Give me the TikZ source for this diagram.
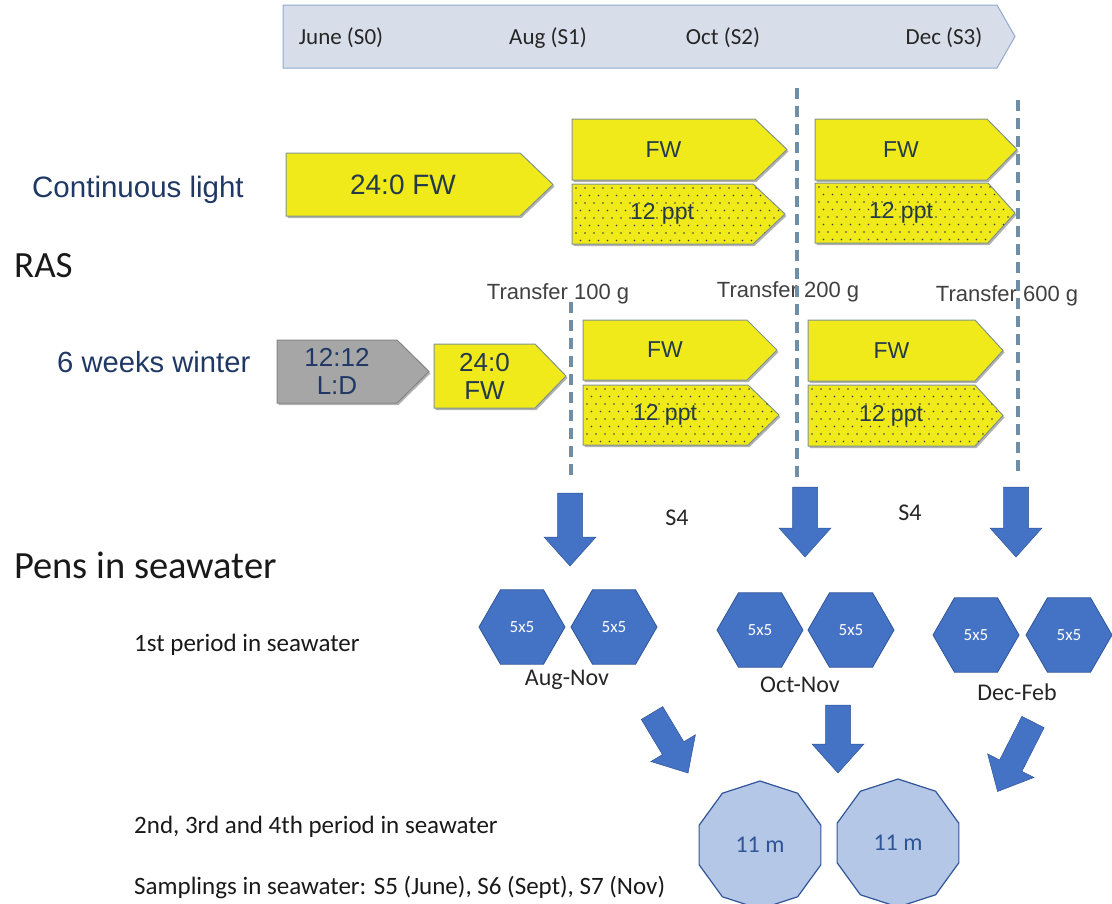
\documentclass[tikz,border=0pt]{standalone}
\usepackage{fontspec}
\setmainfont{Carlito}
\newfontfamily\arial{Liberation Sans}
\usetikzlibrary{shapes.geometric,shadows}
\definecolor{ylw}{RGB}{241,234,26}
\definecolor{ylwb}{RGB}{128,148,140}
\definecolor{navy}{RGB}{31,56,100}
\definecolor{slate}{RGB}{36,58,74}
\definecolor{tlfill}{RGB}{215,222,233}
\definecolor{tlbord}{RGB}{143,170,205}
\definecolor{blu}{RGB}{68,114,196}
\definecolor{blub}{RGB}{47,85,151}
\definecolor{lblu}{RGB}{180,199,231}
\definecolor{dashc}{RGB}{112,142,166}
\definecolor{gry}{RGB}{166,166,166}
\definecolor{dotc}{RGB}{55,62,55}
\definecolor{txt}{RGB}{38,38,38}
\newcommand\fsz[1]{\fontsize{#1}{#1}\selectfont}
% pentagon arrow: name, x1, y1, xtip, y2, xbody, style, node options, text
\newcommand\parrow[9]{%
  \draw[#7] (#2,#3) -- (#6,#3) -- (#4,{(#3+#5)/2}) -- (#6,#5) -- (#2,#5) -- cycle;
  \node[boxtext,#8] (#1) at ({(#2+#6)/2},{(#3+#5)/2}) {#9};}
% dotted fill: x1, y1, xtip, y2, xbody
\newcommand\ppdots[5]{%
  \begin{scope}
  \clip (#1,#2) -- (#5,#2) -- (#3,{(#2+#4)/2}) -- (#5,#4) -- (#1,#4) -- cycle;
  \foreach \i in {0,...,8}{\foreach \j in {0,...,26}{%
    \fill[dotc] ({#1+4+\j*9+mod(\i,2)*4.5},{#2+4+\i*7.5}) circle (0.85pt);}}
  \end{scope}}
% block arrow: x, y, angle, length
\newcommand\blockarr[4]{%
  \begin{scope}[shift={(#1,#2)},rotate=#3]
  \fill[blu,draw=blub,line width=0.5pt] (0,-12.5) -- ({#4-29},-12.5) -- ({#4-29},-26) -- (#4,0)
     -- ({#4-29},26) -- ({#4-29},12.5) -- (0,12.5) -- cycle;
  \end{scope}}
\tikzset{
  ybox/.style={fill=ylw,draw=ylwb,line width=1pt,
    drop shadow={shadow xshift=1.5pt,shadow yshift=-2pt,opacity=0.3,fill=black}},
  gbox/.style={fill=gry,draw=gry!80!black,line width=1pt,
    drop shadow={shadow xshift=1.5pt,shadow yshift=-2pt,opacity=0.3,fill=black}},
  boxtext/.style={inner sep=0pt,text=slate,font=\arial\fsz{23},align=center},
  lbl/.style={inner sep=0pt,anchor=west},
  transfer/.style={inner sep=0pt,text=black!75,font=\arial\fsz{22}},
  dashln/.style={draw=dashc,line width=3.5pt,dash pattern=on 11pt off 7pt},
  hexa/.style={regular polygon,regular polygon sides=6,minimum size=86pt,inner sep=0pt,
    fill=blu,draw=blub,line width=0.8pt,text=white,font=\fsz{17}},
  deca/.style={regular polygon,regular polygon sides=10,minimum size=128pt,inner sep=0pt,
    shape border rotate=18,
    fill=lblu,draw=blub,line width=1.2pt,text=blub,font=\fsz{24}},
}
\begin{document}
\begin{tikzpicture}[x=1pt,y=-1pt]
\useasboundingbox (0,0) rectangle (1112,903);
% timeline
\draw[fill=tlfill,draw=tlbord,line width=1pt] (283,5) -- (997,5) -- (1015,36.5) -- (997,68) -- (283,68) -- cycle;
\node[inner sep=0pt,text=txt,font=\fsz{23}] (t0) at (341,38) {June (S0)};
\node[inner sep=0pt,text=txt,font=\fsz{23}] (t1) at (548,38) {Aug (S1)};
\node[inner sep=0pt,text=txt,font=\fsz{23}] (t2) at (723,38) {Oct (S2)};
\node[inner sep=0pt,text=txt,font=\fsz{23}] (t3) at (944,38) {Dec (S3)};
% left labels
\node[lbl,text=navy,font=\arial\fsz{29.5}] (cl) at (32,190) {Continuous light};
\node[lbl,text=black!90,font=\fsz{37}] (ras) at (14,266) {RAS};
\node[lbl,text=navy,font=\arial\fsz{29.2}] (ww) at (57,362) {6 weeks winter};
\node[lbl,text=black!90,font=\fsz{38.5}] (pens) at (14,565) {Pens in seawater};
\node[lbl,text=black!90,font=\fsz{25}] (p1) at (134,645) {1st period in seawater};
\node[lbl,text=black!90,font=\fsz{25}] (p2) at (134,827) {2nd, 3rd and 4th period in seawater};
\node[lbl,text=black!90,font=\fsz{25}] (smp) at (134,887) {Samplings in seawater: S5 (June), S6 (Sept), S7 (Nov)};
% row 1
\parrow{a1}{286}{153}{553}{216}{520}{ybox}{font=\arial\fsz{28}}{24:0 FW}
\parrow{b1}{572}{119}{787}{180}{755}{ybox}{}{FW}
\parrow{c1}{572}{184}{785}{244}{753}{ybox}{}{}
\ppdots{572}{184}{785}{244}{753}
\node[boxtext] (c1t) at (662,214) {12 ppt};
\parrow{d1}{815}{119}{1017}{180}{987}{ybox}{}{FW}
\parrow{e1}{815}{183}{1015}{243}{988}{ybox}{}{}
\ppdots{815}{183}{1015}{243}{988}
\node[boxtext] (e1t) at (901,213) {12 ppt};
% row 2
\parrow{g2}{277}{340}{429}{403}{397}{gbox}{text=navy,font=\arial\fsz{26}}{12:12\\[2pt]L:D}
\parrow{a2}{434}{344}{566}{408}{535}{ybox}{font=\arial\fsz{26}}{24:0\\[2pt]FW}
\parrow{b2}{583}{320}{777}{380}{747}{ybox}{}{FW}
\parrow{c2}{583}{385}{779}{445}{748}{ybox}{}{}
\ppdots{583}{385}{779}{445}{748}
\node[boxtext] (c2t) at (665,415) {12 ppt};
\parrow{d2}{808}{320}{1003}{381}{975}{ybox}{}{FW}
\parrow{e2}{808}{385}{1003}{446}{975}{ybox}{}{}
\ppdots{808}{385}{1003}{446}{975}
\node[boxtext] (e2t) at (891,416) {12 ppt};
% transfer labels
\node[transfer] (tr1) at (558,294) {Transfer 100 g};
\node[transfer] (tr2) at (788,292) {Transfer 200 g};
\node[transfer] (tr3) at (1007,296) {Transfer 600 g};
% dashed lines
\coordinate (l1a) at (571,302); \coordinate (l1b) at (571,478);
\coordinate (l2a) at (797,88);  \coordinate (l2b) at (797,480);
\coordinate (l3a) at (1018,100); \coordinate (l3b) at (1018,472);
\draw[dashln] (l1a) -- (l1b);
\draw[dashln] (l2a) -- (l2b);
\draw[dashln] (l3a) -- (l3b);
% block arrows down
\blockarr{570}{493}{-90}{73}
\blockarr{805}{487}{-90}{70}
\blockarr{1016}{487}{-90}{70}
\node[inner sep=0pt,text=txt,font=\fsz{24}] (s4a) at (677,518) {S4};
\node[inner sep=0pt,text=txt,font=\fsz{24}] (s4b) at (910,513) {S4};
% hexagons
\node[hexa] (h1) at (522,627) {5x5};
\node[hexa] (h2) at (614,627) {5x5};
\node[hexa] (h3) at (760,630) {5x5};
\node[hexa] (h4) at (851,630) {5x5};
\node[hexa] (h5) at (976,635) {5x5};
\node[hexa] (h6) at (1069,635) {5x5};
\node[inner sep=0pt,text=txt,font=\fsz{24}] (an) at (567,680) {Aug-Nov};
\node[inner sep=0pt,text=txt,font=\fsz{24}] (on) at (800,685) {Oct-Nov};
\node[inner sep=0pt,text=txt,font=\fsz{24}] (df) at (1017,692) {Dec-Feb};
% diagonal arrows
\blockarr{652}{713}{-59}{70}
\blockarr{838}{705}{-90}{68}
\blockarr{1033}{722}{-117}{78}
% decagons
\node[deca] (o1) at (760,845) {11 m};
\node[deca] (o2) at (898,843) {11 m};
\end{tikzpicture}
\end{document}
